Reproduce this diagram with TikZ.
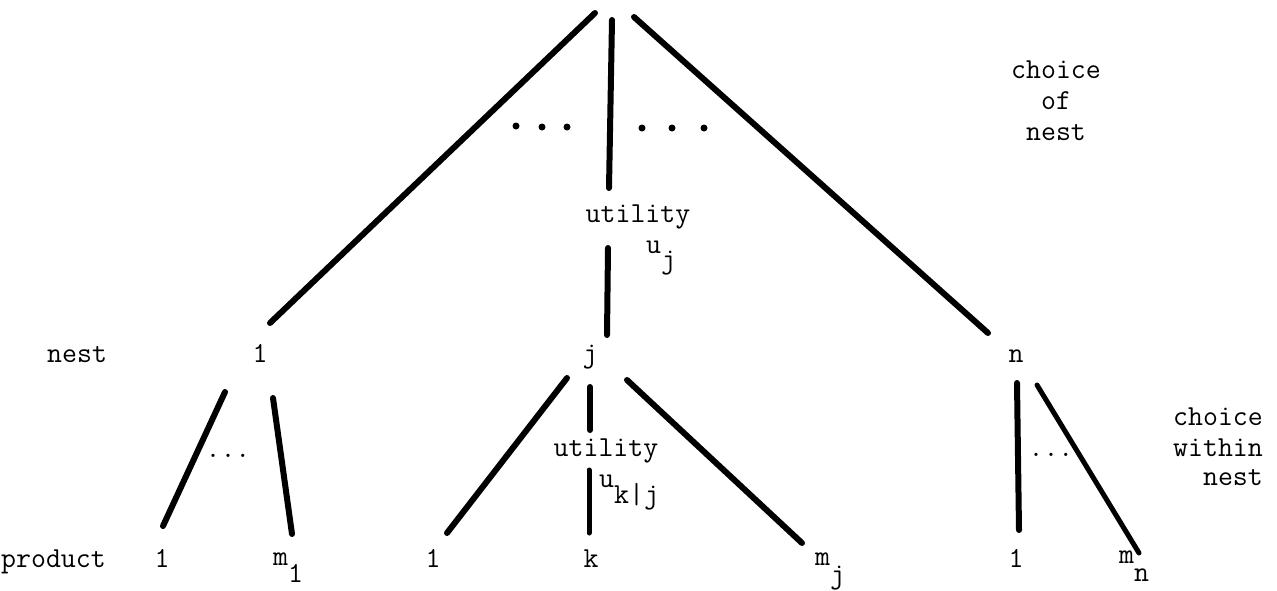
\documentclass[tikz,border=0pt]{standalone}
\usepackage{fontspec}
\begin{document}
\begin{tikzpicture}[x=1pt,y=-1pt,
  lbl/.style={inner sep=0pt,anchor=base,font=\ttfamily\fontsize{29}{34}\selectfont},
  lbll/.style={lbl,anchor=base west},
  lblr/.style={lbl,anchor=base east},
  branch/.style={line width=6pt,line cap=round},
  bigdot/.style={fill=black,draw=none,circle,minimum size=7pt,inner sep=0pt}]
\useasboundingbox (0,0) rectangle (1277,590);
% endpoints
\coordinate (tA) at (595,13);  \coordinate (tAe) at (270,323);
\coordinate (tB) at (612,20);  \coordinate (tBe) at (609,188);
\coordinate (tC) at (634,17);  \coordinate (tCe) at (988,333);
\coordinate (mB) at (608,248); \coordinate (mBe) at (607,335);
\coordinate (l1) at (225,392); \coordinate (l1e) at (163,526);
\coordinate (l2) at (273,398); \coordinate (l2e) at (292,534);
\coordinate (j1) at (567,378); \coordinate (j1e) at (447,533);
\coordinate (j2) at (590,387); \coordinate (j2e) at (590,430);
\coordinate (j3) at (589,470); \coordinate (j3e) at (589,533);
\coordinate (j4) at (627,380); \coordinate (j4e) at (802,543);
\coordinate (n1) at (1017,383); \coordinate (n1e) at (1019,530);
\coordinate (n2) at (1037,385); \coordinate (n2e) at (1139,553);
% branches
\draw[branch] (tA) -- (tAe);
\draw[branch] (tB) -- (tBe);
\draw[branch] (tC) -- (tCe);
\draw[branch] (mB) -- (mBe);
\draw[branch] (l1) -- (l1e);
\draw[branch] (l2) -- (l2e);
\draw[branch] (j1) -- (j1e);
\draw[branch] (j2) -- (j2e);
\draw[branch,line width=5pt] (j3) -- (j3e);
\draw[branch] (j4) -- (j4e);
\draw[branch] (n1) -- (n1e);
\draw[branch,line width=5pt] (n2) -- (n2e);
% big dots
\node[bigdot] (d1) at (516,126) {};
\node[bigdot] (d2) at (542,127) {};
\node[bigdot] (d3) at (567,127) {};
\node[bigdot] (d4) at (642,128) {};
\node[bigdot] (d5) at (672,128) {};
\node[bigdot] (d6) at (704,128) {};
% top-right label
\node[lbl] (c1) at (1056,78) {choice};
\node[lbl] (c2) at (1056,109) {of};
\node[lbl] (c3) at (1056,140) {nest};
% utility u_j
\node[lbl] (ut1) at (638,222) {utility};
\node[lbll] (uj) at (646,253) {u\raisebox{-15pt}{j}};
% nest row
\node[lbll] (nestlbl) at (47,362) {nest};
\node[lbl] (N1) at (260,362) {1};
\node[lbl] (Nj) at (590,362) {j};
\node[lbl] (Nn) at (1016,362) {n};
% lower utility
\node[lbl] (ut2) at (606,456) {utility};
\node[lbll] (ukj) at (599,487) {u\raisebox{-16pt}{k|j}};
% small dots
\node[lbl] (sd1) at (228,457) {...};
\node[lbl] (sd2) at (1051,456) {...};
% right label
\node[lblr] (w1) at (1263,425) {choice};
\node[lblr] (w2) at (1263,456) {within};
\node[lblr] (w3) at (1263,485) {nest};
% product row
\node[lbll] (prod) at (1,567) {product};
\node[lbl] (P1) at (162,567) {1};
\node[lbll] (Pm1) at (273,565) {m\raisebox{-17pt}{1}};
\node[lbl] (Q1) at (433,567) {1};
\node[lbl] (Qk) at (591,567) {k};
\node[lbll] (Qm) at (815,565) {m\raisebox{-18pt}{j}};
\node[lbl] (R1) at (1016,567) {1};
\node[lbll] (Rm) at (1119,563) {m\raisebox{-18pt}{n}};
\end{tikzpicture}
\end{document}
